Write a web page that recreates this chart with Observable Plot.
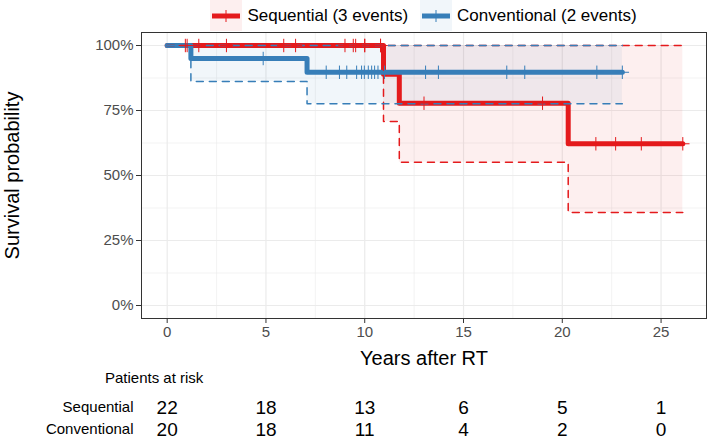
<!DOCTYPE html>
<html><head><meta charset="utf-8">
<script src="https://cdn.jsdelivr.net/npm/d3@7"></script>
<script src="https://cdn.jsdelivr.net/npm/@observablehq/plot@0.6"></script>
<style>
body{margin:0;background:#fff;font-family:"Liberation Sans",Arial,sans-serif;}
#wrap{position:relative;width:709px;height:440px;overflow:hidden;background:#fff}
#legend{position:absolute;top:0;left:141px;width:565px;height:31px;display:flex;justify-content:center;align-items:center;}
.item{display:flex;align-items:center;margin:0 6px;}
.item span{font-size:17px;color:#000;margin-left:5px;white-space:nowrap}
#main{position:absolute;top:31px;left:0}
#risk{position:absolute;top:369px;left:105px;font-size:15px;color:#000}
#table{position:absolute;top:386px;left:0}
</style></head><body><div id="wrap">
<div id="legend"></div><div id="main"></div><div id="risk"></div><div id="table"></div>
</div>
<script>
// ---- data ----
const groups = ["Sequential", "Conventional"];
const legendLabels = ["Sequential (3 events)", "Conventional (2 events)"];
const colors = ["#E41A1C", "#377EB8"];

const seqTime  = [0, 10.95, 11.75, 20.3, 26.1];
const seqSurv  = [1, 0.889, 0.778, 0.622, 0.622];
const seqLower = [1, 0.708, 0.551, 0.358, 0.358];
const seqUpper = [1, 1, 1, 1, 1];
const seqCensor = [0.92, 1.01, 1.6, 3.0, 5.9, 6.5, 9.0, 9.42, 9.54, 10.0, 10.0, 10.8, 10.8, 13.0, 19.0, 21.7, 22.7, 24.0, 26.1];

const convTime  = [0, 1.2, 7.08, 23.04];
const convSurv  = [1, 0.95, 0.897, 0.897];
const convLower = [1, 0.862, 0.776, 0.776];
const convUpper = [1, 1, 1, 1];
const convCensor = [4.86, 8.05, 8.72, 9.09, 9.59, 9.84, 9.98, 10.18, 10.35, 10.5, 10.67, 11.0, 13.08, 13.73, 17.19, 18.1, 21.75, 23.04];

const riskTimes = [0, 5, 10, 15, 20, 25];
const riskSeq = [22, 18, 13, 6, 5, 1];
const riskConv = [20, 18, 11, 4, 2, 0];

const xTicks = [0, 5, 10, 15, 20, 25];
const xMinor = [2.5, 7.5, 12.5, 17.5, 22.5];
const yTicks = [0, 0.25, 0.5, 0.75, 1];
const yMinor = [0.125, 0.375, 0.625, 0.875];
const xTitle = "Years after RT";
const yTitle = "Survival probability";
const riskTitle = "Patients at risk";

// ---- build tables ----
function steps(time, surv, lower, upper) {
  return time.map((t, i) => ({t, s: surv[i], lo: lower[i], hi: upper[i]}));
}
const seq = steps(seqTime, seqSurv, seqLower, seqUpper);
const conv = steps(convTime, convSurv, convLower, convUpper);
function survAt(time, surv, t) {
  const i = d3.bisectRight(time, t) - 1;
  return surv[Math.max(0, i)];
}
const seqC = seqCensor.map(t => ({t, s: survAt(seqTime, seqSurv, t)}));
const convC = convCensor.map(t => ({t, s: survAt(convTime, convSurv, t)}));

const font = "Liberation Sans, Arial, sans-serif";
const xDomain = [-1.3, 27.3];

// ---- legend ----
const legend = document.getElementById("legend");
groups.forEach((g, i) => {
  const item = document.createElement("div");
  item.className = "item";
  item.innerHTML = `<svg width="32" height="31"><rect x="0" y="0" width="32" height="31" fill="${colors[i]}" fill-opacity="0.07"/>`+
    `<line x1="2" x2="30" y1="16" y2="16" stroke="${colors[i]}" stroke-width="5"/>`+
    `<line x1="16" x2="16" y1="10" y2="22" stroke="${colors[i]}" stroke-width="1"/></svg><span>${legendLabels[i]}</span>`;
  legend.appendChild(item);
});

// ---- main chart ----
const main = Plot.plot({
  width: 709, height: 340,
  marginLeft: 141, marginRight: 3, marginTop: 1, marginBottom: 53,
  x: {domain: xDomain},
  y: {domain: [-0.05, 1.05]},
  style: {fontFamily: font, background: "white", overflow: "visible"},
  marks: [
    Plot.ruleX(xMinor, {stroke: "#EBEBEB", strokeWidth: 0.6}),
    Plot.ruleY(yMinor, {stroke: "#EBEBEB", strokeWidth: 0.6}),
    Plot.ruleX(xTicks, {stroke: "#EBEBEB", strokeWidth: 1.2}),
    Plot.ruleY(yTicks, {stroke: "#EBEBEB", strokeWidth: 1.2}),
    Plot.areaY(seq, {x: "t", y1: "lo", y2: "hi", curve: "step-after", fill: colors[0], fillOpacity: 0.07}),
    Plot.areaY(conv, {x: "t", y1: "lo", y2: "hi", curve: "step-after", fill: colors[1], fillOpacity: 0.07}),
    Plot.line(seq, {x: "t", y: "s", curve: "step-after", stroke: colors[0], strokeWidth: 5, strokeLinejoin: "round"}),
    Plot.line(conv, {x: "t", y: "s", curve: "step-after", stroke: colors[1], strokeWidth: 5, strokeLinejoin: "round"}),
    Plot.line(seq, {x: "t", y: "lo", curve: "step-after", stroke: colors[0], strokeWidth: 1.5, strokeDasharray: "7,6"}),
    Plot.line(seq, {x: "t", y: "hi", curve: "step-after", stroke: colors[0], strokeWidth: 1.5, strokeDasharray: "7,6"}),
    Plot.line(conv, {x: "t", y: "lo", curve: "step-after", stroke: colors[1], strokeWidth: 1.5, strokeDasharray: "7,6"}),
    Plot.line(conv, {x: "t", y: "hi", curve: "step-after", stroke: colors[1], strokeWidth: 1.5, strokeDasharray: "7,6"}),
    Plot.dot(seqC, {x: "t", y: "s", symbol: "plus", r: 4.4, stroke: colors[0], strokeWidth: 1}),
    Plot.dot(convC, {x: "t", y: "s", symbol: "plus", r: 4.4, stroke: colors[1], strokeWidth: 1}),
    Plot.frame({stroke: "#333", strokeWidth: 1}),
    Plot.axisX(xTicks, {tickSize: 5, tickPadding: 3, fontSize: 15, stroke: "#333", fill: "#4D4D4D", label: null}),
    Plot.axisY(yTicks, {tickSize: 5, tickPadding: 3, fontSize: 15, stroke: "#333", fill: "#4D4D4D", tickFormat: d3.format(".0%"), label: null}),
    Plot.text([xTitle], {frameAnchor: "bottom", dy: 46, fontSize: 20, fill: "#000"}),
    Plot.text([yTitle], {frameAnchor: "left", dx: -129, rotate: -90, textAnchor: "middle", fontSize: 20, fill: "#000"})
  ]
});
document.getElementById("main").appendChild(main);
document.getElementById("risk").textContent = riskTitle;

// ---- risk table ----
const rows = [];
riskTimes.forEach((t, i) => {
  rows.push({t, g: groups[0], n: riskSeq[i]});
  rows.push({t, g: groups[1], n: riskConv[i]});
});
const table = Plot.plot({
  width: 709, height: 54,
  marginLeft: 141, marginRight: 3, marginTop: 0, marginBottom: 0,
  x: {domain: xDomain, axis: null},
  y: {type: "point", domain: groups, range: [21, 43], padding: 0, axis: null},
  style: {fontFamily: font, background: "white", overflow: "visible"},
  marks: [
    Plot.axisY({tickSize: 0, tickPadding: 8, fontSize: 15, fill: "#000", label: null}),
    Plot.text(rows, {x: "t", y: "g", text: "n", fontSize: 19, fill: "#000"})
  ]
});
document.getElementById("table").appendChild(table);
</script></body></html>
